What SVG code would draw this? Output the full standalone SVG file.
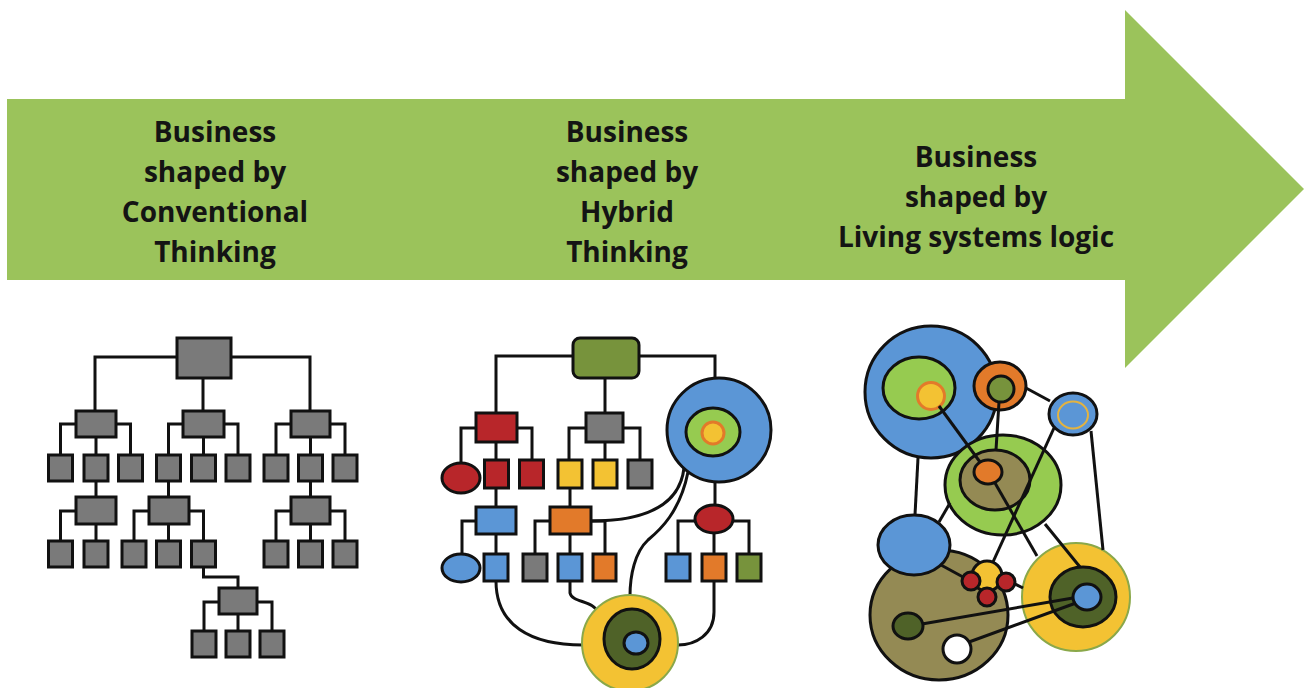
<svg xmlns="http://www.w3.org/2000/svg" width="1304" height="688" viewBox="0 0 1304 688">
<style>
.t{font-family:"Open Sans","Liberation Sans",sans-serif;font-weight:bold;font-size:28px;fill:#141414;text-anchor:middle}
.c{fill:none;stroke:#111;stroke-width:3}
.n{stroke:#111;stroke-width:3}
.g{fill:#7a7a7a}
.ol{fill:#77933c}
.rd{fill:#b8262a}
.ye{fill:#f3c233}
.bl{fill:#5b96d6}
.or{fill:#e27a2a}
.lg{fill:#96cb50}
.dg{fill:#4f6228}
.kh{fill:#948a54}
</style>
<rect width="1304" height="688" fill="#ffffff"/>
<g id="arrow">
<polygon points="7,99 1125,99 1125,10 1304,189 1125,368 1125,280 7,280" fill="#9bc35b"/>
</g>
<g id="labels">
<text class="t" x="215" y="142">Business</text>
<text class="t" x="215" y="182">shaped by</text>
<text class="t" x="215" y="222">Conventional</text>
<text class="t" x="215" y="262">Thinking</text>
<text class="t" x="627" y="142">Business</text>
<text class="t" x="627" y="182">shaped by</text>
<text class="t" x="627" y="222">Hybrid</text>
<text class="t" x="627" y="262">Thinking</text>
<text class="t" x="976" y="167">Business</text>
<text class="t" x="976" y="207">shaped by</text>
<text class="t" x="976" y="247">Living systems logic</text>
</g>
<g id="connectors-left" class="c">
<path d="M95,412 V357 H310 V412"/>
<path d="M203,378 V412"/>
<path d="M60.5,455 V424 H130.5 V455 M96,437 V455"/>
<path d="M168.5,455 V424 H238 V455 M203.5,437 V455"/>
<path d="M276,455 V424 H345 V455 M310.5,437 V455"/>
<path d="M96,481 V497 M168.5,481 V497 M310.5,481 V497"/>
<path d="M60.5,541 V511 H96 M96,524 V541"/>
<path d="M134,541 V511 H203.5 V541 M168.5,524 V541"/>
<path d="M276,541 V511 H345 V541 M310.5,524 V541"/>
<path d="M203.5,567 V577 H238 V588"/>
<path d="M204,631 V602 H272 V631 M238,614 V631"/>
</g>
<g id="tree-left" class="n g">
<rect x="177" y="338" width="54" height="40"/>
<rect x="76" y="411" width="40" height="26"/>
<rect x="183" y="411" width="41" height="26"/>
<rect x="291" y="411" width="39" height="26"/>
<rect x="48.5" y="455" width="24" height="26"/>
<rect x="84" y="455" width="24" height="26"/>
<rect x="118.5" y="455" width="24" height="26"/>
<rect x="156.5" y="455" width="24" height="26"/>
<rect x="191.5" y="455" width="24" height="26"/>
<rect x="226" y="455" width="24" height="26"/>
<rect x="264" y="455" width="24" height="26"/>
<rect x="298.5" y="455" width="24" height="26"/>
<rect x="333" y="455" width="24" height="26"/>
<rect x="76" y="497" width="40" height="27"/>
<rect x="149" y="497" width="40" height="27"/>
<rect x="291" y="497" width="39" height="27"/>
<rect x="48.5" y="541" width="24" height="26"/>
<rect x="84" y="541" width="24" height="26"/>
<rect x="122" y="541" width="24" height="26"/>
<rect x="156.5" y="541" width="24" height="26"/>
<rect x="191.5" y="541" width="24" height="26"/>
<rect x="264" y="541" width="24" height="26"/>
<rect x="298.5" y="541" width="24" height="26"/>
<rect x="333" y="541" width="24" height="26"/>
<rect x="219" y="588" width="38" height="26"/>
<rect x="192" y="631" width="24" height="26"/>
<rect x="226" y="631" width="24" height="26"/>
<rect x="260" y="631" width="24" height="26"/>
</g>
<g id="connectors-mid" class="c">
<path d="M496,413 V356 H715 V378"/>
<path d="M605,378 V413"/>
<path d="M461,463 V428 H532 V460 M496,442 V460"/>
<path d="M569,460 V428 H640 V460 M605,442 V460"/>
<path d="M496,488 V507 M462,555 V521 H476 M496,534 V554"/>
<path d="M570,488 V507 M535,554 V521 H605 V554 M570,534 V554"/>
<path d="M715,482 V505 M678,554 V521 H749 V554 M714,533 V554"/>
<path d="M496,581 C496,625 530,645 583,645"/>
<path d="M570,581 L570,593 C572,603 594,600 598,613"/>
<path d="M714,581 V612 C714,635 695,645 678,645"/>
<path d="M688,472 C680,512 660,530 648,540 C635,552 630,575 630,596"/>
<path d="M684,468 C680,503 650,521 591,521"/>
</g>
<g id="tree-mid" class="n">
<rect class="ol" x="573" y="338" width="66" height="40" rx="7"/>
<rect class="rd" x="476" y="413" width="41" height="29"/>
<rect class="g" x="586" y="413" width="37" height="29"/>
<ellipse class="rd" cx="461" cy="478" rx="19" ry="15"/>
<rect class="rd" x="484.5" y="460" width="24" height="28"/>
<rect class="rd" x="519.5" y="460" width="24" height="28"/>
<rect class="ye" x="558" y="460" width="24" height="28"/>
<rect class="ye" x="593" y="460" width="24" height="28"/>
<rect class="g" x="628" y="460" width="24" height="28"/>
<rect class="bl" x="476" y="507" width="40" height="27"/>
<rect class="or" x="550" y="507" width="41" height="27"/>
<ellipse class="bl" cx="461" cy="568" rx="19" ry="14"/>
<rect class="bl" x="484" y="554" width="24" height="27"/>
<rect class="g" x="523" y="554" width="24" height="27"/>
<rect class="bl" x="558" y="554" width="24" height="27"/>
<rect class="or" x="593" y="554" width="23" height="27"/>
<circle class="bl" cx="719" cy="430" r="52"/>
<ellipse class="lg" cx="713" cy="432" rx="27" ry="24"/>
<circle cx="713" cy="433" r="11" fill="#f3c233" stroke="#e27a2a" stroke-width="3"/>
<ellipse class="rd" cx="714" cy="519" rx="19" ry="14"/>
<rect class="bl" x="666" y="554" width="24" height="27"/>
<rect class="or" x="702" y="554" width="24" height="27"/>
<rect class="ol" x="737" y="554" width="24" height="27"/>
<circle cx="630" cy="643" r="48" fill="#f3c233" stroke="#8aa84a" stroke-width="2"/>
<ellipse class="dg" cx="632" cy="639" rx="28" ry="30"/>
<ellipse class="bl" cx="636" cy="643" rx="12" ry="11"/>
</g>
<g id="living-system" class="n">
<circle class="bl" cx="931" cy="392" r="66"/>
<ellipse class="lg" cx="919" cy="388" rx="36" ry="31"/>
<circle cx="931" cy="396" r="13.5" fill="#f3c233" stroke="#e27a2a" stroke-width="3"/>
<ellipse class="or" cx="1000" cy="386" rx="26" ry="24"/>
<circle class="ol" cx="1001" cy="389" r="13"/>
<ellipse class="bl" cx="1073" cy="414" rx="24" ry="21"/>
<ellipse cx="1073" cy="415" rx="15" ry="13.5" fill="none" stroke="#e3b340" stroke-width="2"/>
<ellipse class="lg" cx="1003" cy="485" rx="58" ry="50"/>
<ellipse class="kh" cx="995" cy="480" rx="35" ry="30"/>
<ellipse class="or" cx="988" cy="472" rx="14" ry="12"/>
<ellipse class="kh" cx="939" cy="615" rx="69" ry="65"/>
<ellipse class="bl" cx="914" cy="545" rx="36" ry="30"/>
<ellipse class="dg" cx="908" cy="626" rx="15" ry="13"/>
<circle cx="957" cy="649" r="14" fill="#ffffff"/>
<circle cx="1076" cy="597" r="54" fill="#f3c233" stroke="#8aa84a" stroke-width="2"/>
<ellipse class="dg" cx="1083" cy="597" rx="33" ry="30"/>
<ellipse class="bl" cx="1087" cy="597" rx="14" ry="13"/>
</g>
<g id="connectors-right" class="c">
<path d="M939,406 L980,462"/>
<path d="M999,402 L996,450"/>
<path d="M1026,388 L1050,401"/>
<path d="M1054,428 L993,562"/>
<path d="M1091,431 L1103,550"/>
<path d="M918,458 L915,515"/>
<path d="M939,522 L950,503"/>
<path d="M995,483 L1037,556"/>
<path d="M1045,524 L1080,567"/>
<path d="M941,565 L963,577"/>
<path d="M1015,584 L1023,588"/>
<path d="M922,624 L1073,598"/>
<path d="M969,642 L1076,603"/>
</g>
<g id="cluster" class="n">
<circle class="ye" cx="987" cy="576" r="15"/>
<circle class="rd" cx="971" cy="581" r="9"/>
<circle class="rd" cx="1006" cy="582" r="9"/>
<circle class="rd" cx="987" cy="597" r="9"/>
</g>
</svg>
